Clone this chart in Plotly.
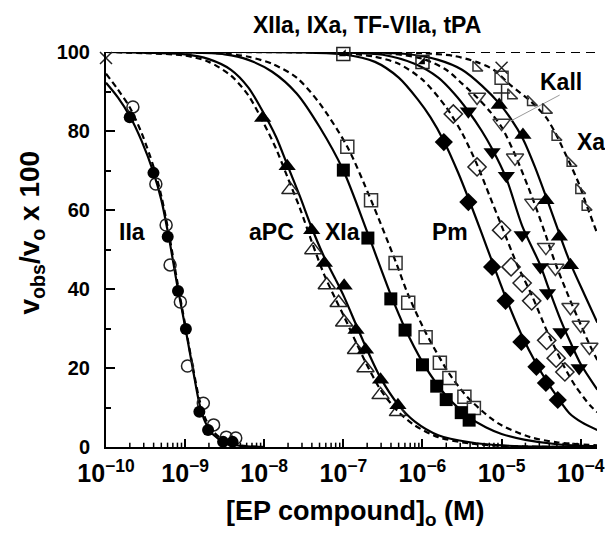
import numpy as np
import plotly.graph_objects as go

# ---------------- data (x values as log10 of molar concentration) ----------------
# IIa
iia_fill_x = [-9.70, -9.40, -9.22, -9.09, -8.99, -8.82, -8.71, -8.52, -8.40]
iia_fill_y = [83.5, 69.4, 53.2, 39.5, 29.9, 8.9, 4.3, 1.3, 1.3]
iia_open_x = [-9.66, -9.37, -9.24, -9.19, -9.06, -8.97, -8.77, -8.64, -8.48, -8.36]
iia_open_y = [86.1, 66.6, 56.2, 46.1, 36.7, 20.5, 11.1, 5.6, 2.5, 2.3]
iia_fit_x = [-10, -9.85, -9.7, -9.55, -9.4, -9.3, -9.2, -9.1, -9.0, -8.9, -8.82, -8.75, -8.65, -8.5, -8.3, -8.0]
iia_fit_solid = [92.2, 88.5, 83.8, 77.5, 69.5, 62.5, 52.5, 41, 30.5, 19.5, 11, 6.5, 3.2, 1.2, 0.3, 0]
iia_fit_dash = [94.5, 90.5, 86, 79.5, 71, 63.5, 53.5, 42, 31, 20, 12, 7.5, 4, 1.6, 0.4, 0]

# aPC
apc_fill_x = [-8.02, -7.71, -7.40, -7.24, -6.99, -6.84, -6.72, -6.53, -6.31]
apc_fill_y = [83.3, 71.1, 54.9, 46.6, 40.8, 29.6, 24.6, 17.0, 10.6]
apc_open_x = [-7.67, -7.38, -7.21, -7.06, -6.99, -6.84, -6.72, -6.53, -6.31]
apc_open_y = [65.1, 49.9, 41.0, 36.5, 31.6, 24.6, 20.0, 13.2, 8.9]
apc_fit_x = [-10, -9.5, -9.0, -8.7, -8.42, -8.2, -8.02, -7.85, -7.71, -7.55, -7.4, -7.24, -7.1,
             -6.99, -6.84, -6.72, -6.53, -6.31, -6.1, -5.8, -5.4, -5.0, -4.5, -3.79]
apc_fit_solid = [100, 99.8, 99.4, 98.2, 95.5, 91, 85, 78.5, 71.5, 63.5, 55.5, 48, 42.5,
                 38, 31, 25.5, 17.5, 10.8, 6.5, 3, 1.2, 0.4, 0.1, 0]
apc_fit_dash = [100, 99.7, 99.1, 97.5, 94, 89, 82.5, 75.5, 68.5, 60.5, 52, 43.5, 37.5,
                33, 26.5, 21.5, 14.5, 9, 5.5, 2.5, 0.9, 0.3, 0.05, 0]

# XIa
xia_fill_x = [-7.0, -6.69, -6.40, -6.22, -6.0, -5.82, -5.70, -5.51, -5.41]
xia_fill_y = [70.1, 52.9, 37.5, 29.6, 20.8, 15.4, 12.0, 8.7, 6.8]
xia_open_x = [-6.95, -6.65, -6.34, -6.18, -5.96, -5.78, -5.66, -5.47, -5.35]
xia_open_y = [76.0, 62.5, 46.6, 36.5, 27.8, 21.3, 17.5, 12.7, 9.9]
xia_fit_solid_x = [-10, -9, -8.5, -8.2, -7.9, -7.59, -7.3, -7.0, -6.69, -6.4, -6.22, -6.0,
                   -5.82, -5.7, -5.51, -5.41, -5.2, -5.0, -4.7, -4.3, -3.79]
xia_fit_solid_y = [100, 99.9, 99.4, 98, 95, 89.5, 81, 70, 54, 38.5, 30, 21.5,
                   16, 13, 9.2, 7.5, 5, 3.3, 1.8, 0.7, 0.2]
xia_fit_dash_x = [-10, -9, -8.5, -8.2, -7.9, -7.59, -7.3, -6.95, -6.65, -6.34, -6.18, -5.96,
                  -5.78, -5.66, -5.47, -5.35, -5.15, -5.0, -4.64, -4.3, -3.79]
xia_fit_dash_y = [100, 99.9, 99.6, 98.8, 97, 93.5, 87, 76, 62.5, 47, 38.5, 29,
                  22.5, 18.5, 13.5, 11, 7.5, 5.5, 2.5, 1.2, 0.4]

# Pm
pm_fill_x = [-5.73, -5.42, -5.12, -4.95, -4.75, -4.56, -4.44, -4.29]
pm_fill_y = [77.2, 62.0, 45.6, 37.0, 26.6, 20.3, 16.2, 11.9]
pm_open_x = [-5.61, -5.31, -5.0, -4.88, -4.74, -4.62, -4.43, -4.31, -4.20]
pm_open_y = [84.3, 70.9, 54.9, 45.6, 41.5, 37.0, 27.0, 22.5, 19.0]
pm_fit_solid_x = [-10, -7.5, -7, -6.6, -6.3, -6.06, -5.9, -5.73, -5.55, -5.42, -5.25, -5.12,
                  -4.95, -4.75, -4.56, -4.44, -4.29, -4.14, -3.99, -3.79]
pm_fit_solid_y = [100, 99.9, 99.4, 97.5, 93.5, 88, 83.5, 77.5, 69.5, 63, 54, 47,
                  38, 28.5, 21, 17, 12.5, 8.5, 6.3, 4.3]
pm_fit_dash_x = [-10, -7.5, -7, -6.6, -6.3, -6.0, -5.7, -5.5, -5.31, -5.15, -5.0, -4.8,
                 -4.62, -4.43, -4.3, -4.2, -4.07, -3.88, -3.79]
pm_fit_dash_y = [100, 99.9, 99.7, 98.8, 97, 93, 86, 79.5, 71.5, 63.5, 56, 46,
                 38.5, 29.5, 24, 20, 15.5, 10.5, 8.8]

# Kall
kall_fill_x = [-5.42, -5.12, -4.94, -4.74, -4.51, -4.42, -4.25, -4.13, -4.02]
kall_fill_y = [85.0, 74.7, 68.7, 53.7, 45.6, 39.0, 29.1, 24.6, 20.0]
kall_open_x = [-5.31, -5.0, -4.83, -4.60, -4.44, -4.32, -4.13, -4.0, -3.89]
kall_open_y = [88.6, 82.0, 73.2, 61.8, 50.6, 45.3, 35.4, 30.9, 25.3]
kall_fit_solid_x = [-10, -7, -6.5, -6.1, -5.8, -5.6, -5.42, -5.25, -5.12, -4.94, -4.74,
                    -4.51, -4.42, -4.25, -4.13, -4.0, -3.79]
kall_fit_solid_y = [100, 99.9, 99.3, 97, 93.5, 89.5, 85, 80, 75.5, 68, 56,
                    46, 41, 32, 26.5, 21, 14.5]
kall_fit_dash_x = [-10, -7, -6.4, -6.0, -5.7, -5.5, -5.31, -5.15, -5.0, -4.83, -4.6,
                   -4.44, -4.32, -4.13, -4.0, -3.89, -3.79]
kall_fit_dash_y = [100, 100, 99.6, 98.3, 95.5, 92, 88.5, 85, 81, 74, 62.5,
                   53.5, 46.5, 37, 31, 26, 22]

# Xa
xa_fill_x = [-5.03, -4.73, -4.44, -4.27, -4.13]
xa_fill_y = [86.6, 79.0, 62.5, 53.2, 46.0]
xa_open_x = [-5.32, -4.88, -4.63, -4.44, -4.32, -4.13, -4.02, -3.94]
xa_open_y = [96.0, 89.0, 87.3, 85.3, 78.5, 71.9, 65.0, 60.8]
xa_fit_solid_x = [-10, -7, -6.2, -5.8, -5.5, -5.25, -5.03, -4.88, -4.73, -4.58, -4.44,
                  -4.27, -4.13, -3.95, -3.79]
xa_fit_solid_y = [100, 100, 99.5, 98, 95.5, 91.5, 87, 83, 78, 71, 63.5,
                  54, 46.5, 38.5, 31.5]
xa_fit_dash_x = [-10, -6.5, -6.0, -5.6, -5.32, -5.1, -4.88, -4.63, -4.44, -4.32, -4.2,
                 -4.13, -4.02, -3.94, -3.79]
xa_fit_dash_y = [100, 100, 99.7, 99, 97.5, 95.5, 91.5, 87.5, 83.5, 79.5, 74.5,
                 71.5, 66.5, 62, 54]

# XIIa, IXa, TF-VIIa, tPA (no inhibition)
flat_x = [-10, -3.79]
flat_y = [100, 100]
half_sq_x = [-7, -6, -5]
half_sq_y = [99.5, 97.5, 102]
open_sq_x = [-10, -9, -8, -7, -5]
open_sq_y = [101, 100.5, 100.5, 100.5, 93.5]
xmark_x = [-10, -6, -5]
xmark_y = [98.5, 100.5, 96]
plus_x = [-9, -7, -5]
plus_y = [102.5, 102.3, 89.6]

# Kall leader line (log10 x, y)
kall_line_x = [-4.888, -4.266]
kall_line_y = [82.5, 89.1]

# axis ticks
x_range = [-10, -3.794]
x_decades = [-10, -9, -8, -7, -6, -5, -4]
x_minor_mult = [2, 3, 4, 5, 6, 7, 8, 9]
ytick_vals = [0, 20, 40, 60, 80, 100]

# labels: (text, log10 x, y)
curve_labels = [("IIa", -9.677, 54.4), ("aPC", -7.91, 54.4), ("XIa", -7.015, 54.4),
                ("Pm", -5.647, 54.4), ("Kall", -4.254, 92.4)]
xa_label = ("Xa", -4.07, 77.2)
top_label = ("XIIa, IXa, TF-VIIa, tPA", -6.704, 106.8)

# ---------------- figure ----------------
FONT = "Liberation Sans, Arial, sans-serif"
BLK = "black"
fig = go.Figure()


def X(v):
    return 10 ** np.array(v, dtype=float)


def line(xv, yv, dash=None):
    fig.add_trace(go.Scatter(x=X(xv), y=yv, mode="lines", cliponaxis=False,
                             line=dict(color=BLK, width=2.2, dash=dash, shape="spline", smoothing=0.8),
                             showlegend=False, hoverinfo="skip"))


def filled(xv, yv, symbol, size):
    fig.add_trace(go.Scatter(x=X(xv), y=yv, mode="markers", cliponaxis=False,
                             marker=dict(symbol=symbol, size=size, color=BLK, line=dict(width=0)),
                             showlegend=False))


def hollow(xv, yv, symbol, size, color="#222", lw=1.5):
    fig.add_trace(go.Scatter(x=X(xv), y=yv, mode="markers", cliponaxis=False,
                             marker=dict(symbol=symbol, size=size, color=color,
                                         line=dict(color=color, width=lw)),
                             showlegend=False))


# x-axis minor ticks (log 2..9 per decade), drawn as short inside tick marks
mt_x, mt_y = [], []
for e in x_decades:
    for m in x_minor_mult:
        v = m * 10.0 ** e
        if np.log10(v) <= x_range[1]:
            mt_x += [v, v, None]
            mt_y += [0, 1.1, None]
fig.add_trace(go.Scatter(x=mt_x, y=mt_y, mode="lines", cliponaxis=False,
                         line=dict(color=BLK, width=1.5), showlegend=False, hoverinfo="skip"))

DASH = "6px,4px"
# fitted curves
line(flat_x, flat_y, "9px,6px")
line(iia_fit_x, iia_fit_solid)
line(iia_fit_x, iia_fit_dash, DASH)
line(apc_fit_x, apc_fit_solid)
line(apc_fit_x, apc_fit_dash, DASH)
line(xia_fit_solid_x, xia_fit_solid_y)
line(xia_fit_dash_x, xia_fit_dash_y, DASH)
line(pm_fit_solid_x, pm_fit_solid_y)
line(pm_fit_dash_x, pm_fit_dash_y, DASH)
line(kall_fit_solid_x, kall_fit_solid_y)
line(kall_fit_dash_x, kall_fit_dash_y, DASH)
line(xa_fit_solid_x, xa_fit_solid_y)
line(xa_fit_dash_x, xa_fit_dash_y, DASH)

# Kall leader line
fig.add_trace(go.Scatter(x=X(kall_line_x), y=kall_line_y, mode="lines", cliponaxis=False,
                         line=dict(color="#9a9a9a", width=1), showlegend=False, hoverinfo="skip"))

# markers
hollow(iia_open_x, iia_open_y, "circle-open", 12)
filled(iia_fill_x, iia_fill_y, "circle", 12)
hollow(apc_open_x, apc_open_y, "triangle-up-open", 15)
filled(apc_fill_x, apc_fill_y, "triangle-up", 15)
hollow(xia_open_x, xia_open_y, "square-open", 13, color="#333")
filled(xia_fill_x, xia_fill_y, "square", 13)
hollow(pm_open_x, pm_open_y, "diamond-open", 14)
filled(pm_fill_x, pm_fill_y, "diamond", 14)
hollow(kall_open_x, kall_open_y, "triangle-down-open", 15, color="#333")
filled(kall_fill_x, kall_fill_y, "triangle-down", 15)
hollow(xa_open_x, xa_open_y, "triangle-sw-open", 11, color="#333")
filled(xa_fill_x, xa_fill_y, "triangle-up", 15)

hollow(open_sq_x, open_sq_y, "square-open", 13, color="#333")
hollow(open_sq_x, open_sq_y, "line-nw-open", 13, color="#333", lw=1.2)
hollow(half_sq_x, half_sq_y, "square-open", 13)
filled(half_sq_x, half_sq_y, "triangle-se", 8)
hollow(xmark_x, xmark_y, "x-thin-open", 12)
hollow(plus_x, plus_y, "cross-thin-open", 12)

# text labels
for txt, lx, ly in curve_labels:
    fig.add_annotation(x=lx, y=ly, xref="x", yref="y", text=txt, showarrow=False,
                       font=dict(family=FONT, size=23, color=BLK, weight="bold"))
fig.add_annotation(x=xa_label[1], y=xa_label[2], xref="x", yref="y", text=xa_label[0],
                   showarrow=False, xanchor="left",
                   font=dict(family=FONT, size=23, color=BLK, weight="bold"))
fig.add_annotation(x=top_label[1], y=top_label[2] / 100.0, xref="x", yref="paper", text=top_label[0],
                   yanchor="middle", xanchor="center",
                   showarrow=False, font=dict(family=FONT, size=23, color=BLK, weight="bold"))

# axis titles
fig.add_annotation(x=0.509, y=-0.168, xref="paper", yref="paper", xanchor="center", yanchor="middle",
                   text="[EP compound]<sub>o</sub> (M)", showarrow=False,
                   font=dict(family=FONT, size=27, color=BLK, weight="bold"))
fig.add_annotation(x=-0.152, y=0.544, xref="paper", yref="paper", textangle=-90,
                   xanchor="center", yanchor="middle",
                   text="v<sub>obs</sub>/v<sub>o</sub> x 100", showarrow=False,
                   font=dict(family=FONT, size=28, color=BLK, weight="bold"))

fig.update_xaxes(type="log", range=x_range, showgrid=False, zeroline=False,
                 showline=True, linecolor=BLK, linewidth=2,
                 ticks="inside", ticklen=8, tickwidth=2, tickcolor=BLK,
                 tickmode="linear", tick0=0, dtick=1, exponentformat="power",
                 tickfont=dict(family=FONT, size=20, color=BLK, weight="bold"),
                 ticklabelstandoff=4, ticklabeloverflow="allow")
fig.update_yaxes(range=[0, 100], showgrid=False, zeroline=False,
                 showline=True, linecolor=BLK, linewidth=2,
                 ticks="inside", ticklen=9, tickwidth=2, tickcolor=BLK,
                 tickmode="array", tickvals=ytick_vals,
                 tickfont=dict(family=FONT, size=20, color=BLK, weight="bold"),
                 ticklabelstandoff=10,
                 minor=dict(ticks="inside", ticklen=5, tickwidth=1.5, tickcolor=BLK, dtick=10, showgrid=False))

fig.update_layout(width=605, height=537, margin=dict(l=106, r=0, t=52, b=90),
                  paper_bgcolor="white", plot_bgcolor="white", showlegend=False,
                  font=dict(family=FONT, color=BLK))

fig.write_html("out.html", config={"displayModeBar": False},
               post_script="document.body.style.margin='0';document.body.style.overflow='hidden';")
